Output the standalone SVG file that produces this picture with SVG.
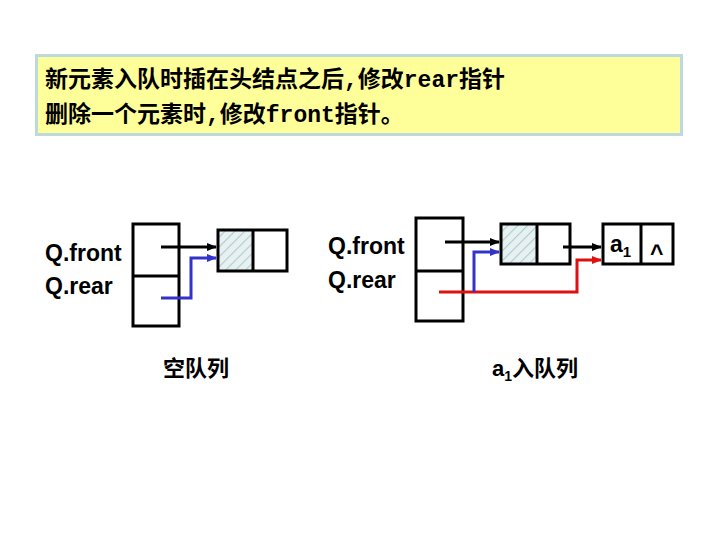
<svg xmlns="http://www.w3.org/2000/svg" width="720" height="540" viewBox="0 0 720 540">
<style>
.cap{font-family:"Liberation Mono","Noto Sans CJK SC",monospace;font-size:23px;font-weight:bold;fill:#000}
.lbl{font-family:"Liberation Sans",Arial,sans-serif;font-size:23px;font-weight:bold;fill:#000}
.cjk{font-family:"Liberation Sans","Noto Sans CJK SC",sans-serif;font-size:22px;font-weight:bold;fill:#000}
.box{fill:#fff;stroke:#000;stroke-width:3}
.ln{fill:none;stroke-width:3}
</style>
<defs>
<pattern id="hatch" patternUnits="userSpaceOnUse" width="7" height="7" patternTransform="rotate(45)">
<rect width="7" height="7" fill="#E8F1F1"/>
<line x1="0" y1="0" x2="0" y2="7" stroke="#B0CCCE" stroke-width="2.2"/>
</pattern>
<marker id="ak" markerWidth="10" markerHeight="10" refX="9" refY="5" orient="auto" markerUnits="userSpaceOnUse"><path d="M0,1 L10,5 L0,9 Z" fill="#000"/></marker>
<marker id="ab" markerWidth="10" markerHeight="10" refX="9" refY="5" orient="auto" markerUnits="userSpaceOnUse"><path d="M0,1 L10,5 L0,9 Z" fill="#3333CC"/></marker>
<marker id="ar" markerWidth="10" markerHeight="10" refX="9" refY="5" orient="auto" markerUnits="userSpaceOnUse"><path d="M0,1 L10,5 L0,9 Z" fill="#DD1111"/></marker>
</defs>
<rect width="720" height="540" fill="#fff"/>
<g id="note">
<rect x="36.5" y="55.5" width="645" height="79" fill="#FFFF99" stroke="#BCD9DF" stroke-width="3"/>
<text class="cap" x="45" y="87">新元素入队时插在头结点之后,修改rear指针</text>
<text class="cap" x="45" y="122">删除一个元素时,修改front指针。</text>
</g>
<g id="empty-queue">
<text class="lbl" x="45" y="261">Q.front</text>
<text class="lbl" x="45" y="294">Q.rear</text>
<rect class="box" x="133" y="224" width="46" height="102"/>
<line x1="133" y1="276" x2="179" y2="276" stroke="#000" stroke-width="3"/>
</g>
<g id="head1">
<rect x="218" y="230" width="35" height="41" fill="url(#hatch)"/>
<rect x="218" y="230" width="69" height="41" fill="none" stroke="#000" stroke-width="3"/>
<line x1="253" y1="230" x2="253" y2="271" stroke="#000" stroke-width="3"/>
</g>
<g id="queue2">
<text class="lbl" x="328" y="254">Q.front</text>
<text class="lbl" x="328" y="288">Q.rear</text>
<rect class="box" x="416" y="218" width="47" height="103"/>
<line x1="416" y1="271" x2="463" y2="271" stroke="#000" stroke-width="3"/>
</g>
<g id="head2">
<rect x="501" y="224" width="36" height="40" fill="url(#hatch)"/>
<rect x="501" y="224" width="69" height="40" fill="none" stroke="#000" stroke-width="3"/>
<line x1="537" y1="224" x2="537" y2="264" stroke="#000" stroke-width="3"/>
</g>
<g id="a1node">
<rect class="box" x="603" y="224" width="70" height="40"/>
<line x1="641" y1="224" x2="641" y2="264" stroke="#000" stroke-width="3"/>
<text class="lbl" x="610" y="252" font-size="24" font-weight="normal">a<tspan font-size="15" dy="5">1</tspan></text>
<text class="lbl" x="650" y="261" font-size="22">^</text>
</g>
<g id="connectors">
<path class="ln" d="M161,247 H216" stroke="#000" marker-end="url(#ak)"/>
<path class="ln" d="M161,298 H191 V258 H216" stroke="#3333CC" marker-end="url(#ab)"/>
<path class="ln" d="M445,242 H499" stroke="#000" marker-end="url(#ak)"/>
<path class="ln" d="M439,292 H577 V260 H601" stroke="#DD1111" marker-end="url(#ar)"/>
<path class="ln" d="M474,292 V252 H499" stroke="#3333CC" marker-end="url(#ab)"/>
<path class="ln" d="M563,247 H601" stroke="#000" marker-end="url(#ak)"/>
</g>
<g id="captions">
<text class="cjk" x="163" y="376">空队列</text>
<text class="cjk" x="492" y="376">a<tspan font-size="14" dy="5">1</tspan><tspan dy="-5">入队列</tspan></text>
</g>
</svg>
